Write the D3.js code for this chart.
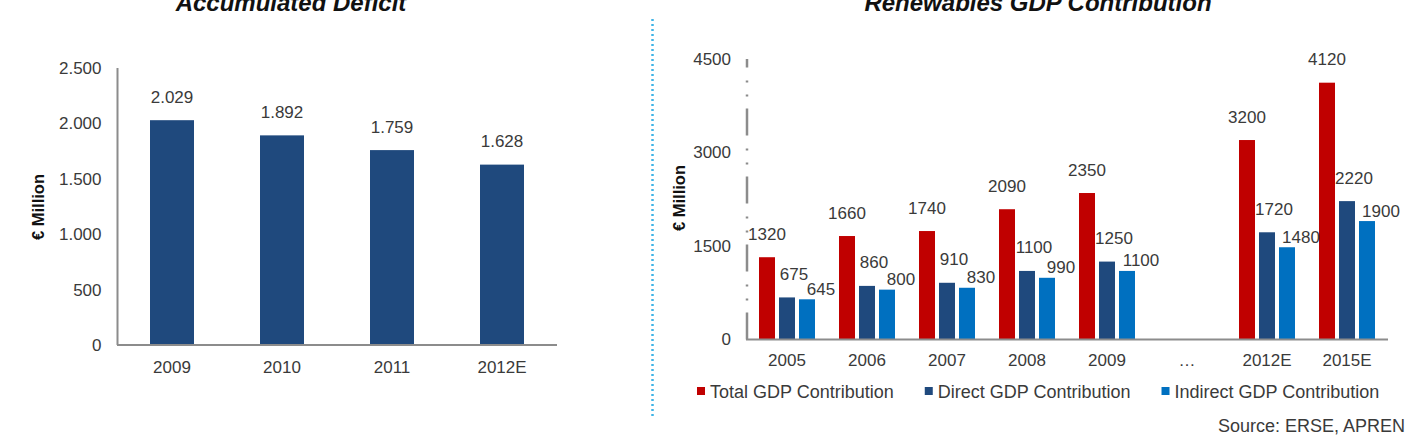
<!DOCTYPE html>
<html>
<head>
<meta charset="utf-8">
<script src="https://cdn.jsdelivr.net/npm/d3@7"></script>
<style>
  html, body { margin: 0; padding: 0; background: #fff; }
  svg { display: block; font-family: "Liberation Sans", Arial, sans-serif; }
</style>
</head>
<body>
<svg id="chart" width="1421" height="436"></svg>
<script>
// ---- Data: left chart ----
const deficitCategories = ["2009", "2010", "2011", "2012E"];
const deficitValues = [2029, 1892, 1759, 1628];
const deficitTicks = [0, 500, 1000, 1500, 2000, 2500];

// ---- Data: right chart ----
const gdpCategories = ["2005", "2006", "2007", "2008", "2009", "…", "2012E", "2015E"];
const seriesNames = ["Total GDP Contribution", "Direct GDP Contribution", "Indirect GDP Contribution"];
const totalGDP    = [1320, 1660, 1740, 2090, 2350, null, 3200, 4120];
const directGDP   = [675,  860,  910,  1100, 1250, null, 1720, 2220];
const indirectGDP = [645,  800,  830,  990,  1100, null, 1480, 1900];
const gdpTicks = [0, 1500, 3000, 4500];

const titles = ["Accumulated Deficit", "Renewables GDP Contribution"];
const yLabel = "€ Million";
const sourceText = "Source: ERSE, APREN";

// ---- Styles ----
const textColor = "#3a3a3a";
const axisColor = "#8c8c8c";
const deficitColor = "#1f497d";
const seriesColors = ["#c00000", "#1f497d", "#0070c0"];
const labelFont = 17;

const svg = d3.select("#chart");
const locale = d3.formatLocale({decimal: ",", thousands: ".", grouping: [3], currency: ["", "€"]});
const fmtDot = locale.format(",");

// Titles (partially cut off at the top, as in the reference)
svg.append("text").attr("x", 291).attr("y", 11).attr("text-anchor", "middle")
  .attr("font-size", 24).attr("font-weight", "bold").attr("font-style", "italic")
  .attr("fill", "#111").text(titles[0]);
svg.append("text").attr("x", 1038).attr("y", 11).attr("text-anchor", "middle")
  .attr("font-size", 24).attr("font-weight", "bold").attr("font-style", "italic")
  .attr("fill", "#111").text(titles[1]);

// Dotted separator
svg.append("line").attr("x1", 652.5).attr("x2", 652.5).attr("y1", 19).attr("y2", 416)
  .attr("stroke", "#3fb4e6").attr("stroke-width", 2.5).attr("stroke-dasharray", "2,3");

// ================= LEFT CHART =================
const xL = d3.scaleBand().domain(deficitCategories).range([117, 557])
  .paddingInner(0.6).paddingOuter(0.3);
const yL = d3.scaleLinear().domain([0, 2500]).range([345, 68]);

const gL = svg.append("g");
const yAxisL = d3.axisLeft(yL).tickValues(deficitTicks).tickSize(0).tickPadding(16).tickFormat(fmtDot);
const yAxG = gL.append("g").attr("transform", "translate(117.5,0)").call(yAxisL);
yAxG.select(".domain").remove();
yAxG.selectAll("text").attr("font-size", labelFont).attr("fill", textColor)
  .attr("font-family", "Liberation Sans, Arial, sans-serif");

const xAxisL = d3.axisBottom(xL).tickSize(0).tickPadding(16);
const xAxG = gL.append("g").attr("transform", "translate(0,345)").call(xAxisL);
xAxG.select(".domain").remove();
xAxG.selectAll("text").attr("font-size", labelFont).attr("fill", textColor)
  .attr("font-family", "Liberation Sans, Arial, sans-serif");

gL.selectAll("rect.bar").data(deficitValues).join("rect")
  .attr("class", "bar")
  .attr("x", (d, i) => xL(deficitCategories[i]))
  .attr("width", xL.bandwidth())
  .attr("y", d => yL(d))
  .attr("height", d => yL(0) - yL(d))
  .attr("fill", deficitColor);

gL.selectAll("text.val").data(deficitValues).join("text")
  .attr("class", "val")
  .attr("x", (d, i) => xL(deficitCategories[i]) + xL.bandwidth() / 2)
  .attr("y", d => yL(d) - 17.5)
  .attr("text-anchor", "middle").attr("font-size", labelFont).attr("fill", textColor)
  .text(d => fmtDot(d));

gL.append("line").attr("x1", 117.5).attr("x2", 117.5).attr("y1", yL(2500)).attr("y2", yL(0))
  .attr("stroke", axisColor).attr("stroke-width", 2);
gL.append("line").attr("x1", 117).attr("x2", 557).attr("y1", yL(0)).attr("y2", yL(0))
  .attr("stroke", axisColor).attr("stroke-width", 2);

gL.append("text").attr("transform", "translate(44,207) rotate(-90)")
  .attr("text-anchor", "middle").attr("font-size", 16.5).attr("font-weight", "bold")
  .attr("fill", "#111").text(yLabel);

// ================= RIGHT CHART =================
const xR = d3.scaleBand().domain(gdpCategories).range([747, 1387])
  .paddingInner(0.3).paddingOuter(0.15);
const xInner = d3.scaleBand().domain(seriesNames).range([0, xR.bandwidth()]).paddingInner(0.2);
const yR = d3.scaleLinear().domain([0, 4500]).range([339.5, 59]);

const gR = svg.append("g");
const yAxisR = d3.axisLeft(yR).tickValues(gdpTicks).tickSize(0).tickPadding(16).tickFormat(d3.format("d"));
const yAxRG = gR.append("g").attr("transform", "translate(747,0)").call(yAxisR);
yAxRG.select(".domain").remove();
yAxRG.selectAll("text").attr("font-size", labelFont).attr("fill", textColor)
  .attr("font-family", "Liberation Sans, Arial, sans-serif");

const xAxisR = d3.axisBottom(xR).tickSize(0).tickPadding(14);
const xAxRG = gR.append("g").attr("transform", "translate(0,339.5)").call(xAxisR);
xAxRG.select(".domain").remove();
xAxRG.selectAll("text").attr("font-size", labelFont).attr("fill", textColor)
  .attr("font-family", "Liberation Sans, Arial, sans-serif");

const seriesData = [totalGDP, directGDP, indirectGDP];
const labelDx = [0, 7, 14];
const labelDy = [-17.5, -17.5, -4.5];

seriesData.forEach((vals, s) => {
  const pts = vals.map((v, i) => ({cat: gdpCategories[i], v})).filter(p => p.v != null);
  gR.selectAll("rect.s" + s).data(pts).join("rect")
    .attr("class", "s" + s)
    .attr("x", p => xR(p.cat) + xInner(seriesNames[s]))
    .attr("width", xInner.bandwidth())
    .attr("y", p => yR(p.v))
    .attr("height", p => yR(0) - yR(p.v))
    .attr("fill", seriesColors[s]);
});
seriesData.forEach((vals, s) => {
  const pts = vals.map((v, i) => ({cat: gdpCategories[i], v})).filter(p => p.v != null);
  gR.selectAll("text.l" + s).data(pts).join("text")
    .attr("class", "l" + s)
    .attr("x", p => xR(p.cat) + xInner(seriesNames[s]) + xInner.bandwidth() / 2 + labelDx[s])
    .attr("y", p => yR(p.v) + labelDy[s])
    .attr("text-anchor", "middle").attr("font-size", labelFont).attr("fill", textColor)
    .text(p => p.v);
});

gR.append("line").attr("x1", 747).attr("x2", 747).attr("y1", yR(0)).attr("y2", yR(4500))
  .attr("stroke", axisColor).attr("stroke-width", 2.5).attr("stroke-dasharray", "27,12,2,12,2,13");
gR.append("line").attr("x1", 746).attr("x2", 1388).attr("y1", yR(0)).attr("y2", yR(0))
  .attr("stroke", axisColor).attr("stroke-width", 2);

gR.append("text").attr("transform", "translate(685,198) rotate(-90)")
  .attr("text-anchor", "middle").attr("font-size", 16.5).attr("font-weight", "bold")
  .attr("fill", "#111").text(yLabel);

// legend
let lx = 697;
seriesNames.forEach((name, s) => {
  const g = svg.append("g");
  g.append("rect").attr("x", lx).attr("y", 387).attr("width", 8).attr("height", 8).attr("fill", seriesColors[s]);
  const t = g.append("text").attr("x", lx + 13).attr("y", 397.5).attr("font-size", 18)
    .attr("fill", textColor).text(name);
  lx = lx + 13 + t.node().getComputedTextLength() + 31;
});

// source
svg.append("text").attr("x", 1405).attr("y", 432).attr("text-anchor", "end")
  .attr("font-size", 18).attr("fill", textColor).text(sourceText);
</script>
</body>
</html>
